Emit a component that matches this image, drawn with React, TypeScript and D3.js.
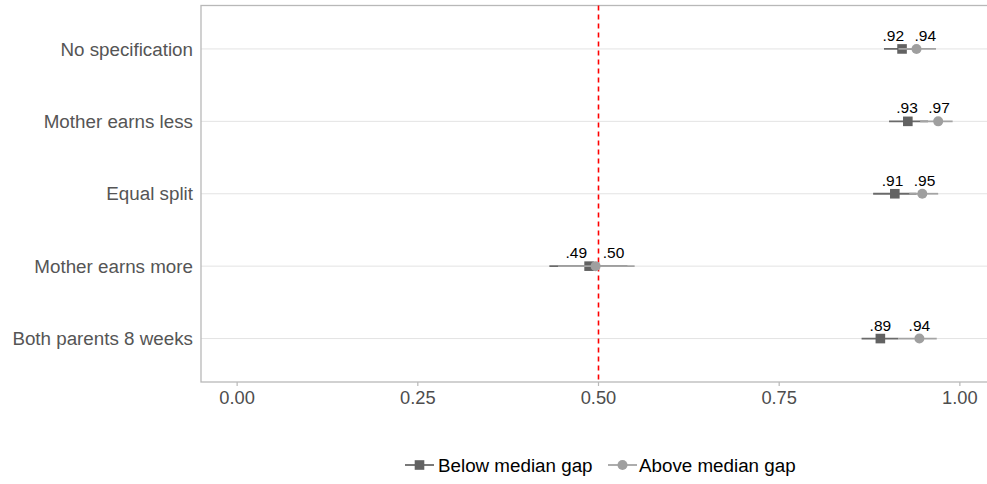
import React from "react";
import * as d3 from "d3";

const categories = [
  "No specification",
  "Mother earns less",
  "Equal split",
  "Mother earns more",
  "Both parents 8 weeks",
];
const belowEst = [0.92, 0.928, 0.91, 0.487, 0.89];
const belowLow = [0.895, 0.902, 0.88, 0.432, 0.864];
const belowHigh = [0.945, 0.956, 0.94, 0.54, 0.915];
const aboveEst = [0.94, 0.97, 0.948, 0.496, 0.944];
const aboveLow = [0.915, 0.945, 0.93, 0.444, 0.915];
const aboveHigh = [0.967, 0.99, 0.97, 0.55, 0.968];
const xTicks = [0, 0.25, 0.5, 0.75, 1];
const refValue = 0.5;
const seriesNames = ["Below median gap", "Above median gap"];

const W = 987;
const H = 484;
const margin = { left: 201, top: 5.5, right: -9, bottom: 102 };
const FONT = "Liberation Sans, Arial, Helvetica, sans-serif";

const darkFill = "#626262";
const darkLine = "#6a6a6a";
const lightFill = "#9f9f9f";
const lightLine = "#a4a4a4";

const fmt = (v: number) => d3.format(".2f")(v).replace(/^0/, "");

export default function App() {
  const x = d3
    .scaleLinear()
    .domain([-0.05, 1.05])
    .range([margin.left, W - margin.right]);
  const y = d3
    .scalePoint<string>()
    .domain(categories)
    .range([margin.top, H - margin.bottom])
    .padding(0.6);
  const panelBottom = H - margin.bottom;
  const panelRight = W - margin.right;
  const refX = x(refValue);

  const minSep = 32;
  const labelPos = categories.map((_, i) => {
    let a = x(belowEst[i]);
    let b = x(aboveEst[i]);
    if (b - a < minSep) {
      const mid = (a + b) / 2;
      a = mid - minSep / 2;
      b = mid + minSep / 2;
    }
    if (Math.abs(b - refX) < 14) b = refX + 15;
    if (Math.abs(a - refX) < 14) a = refX - 15;
    return [a, b];
  });

  const legendY = 465;
  const legendX = 405;

  return (
    <div style={{ position: "absolute", left: 0, top: 0 }}>
      <svg width={W} height={H} style={{ display: "block", fontFamily: FONT }}>
        <rect x={0} y={0} width={W} height={H} fill="#ffffff" />
        {categories.map((c) => (
          <line
            key={"g" + c}
            x1={margin.left}
            x2={panelRight}
            y1={y(c)}
            y2={y(c)}
            stroke="#e3e3e3"
            strokeWidth={1}
          />
        ))}
        <rect
          x={margin.left}
          y={margin.top}
          width={panelRight - margin.left}
          height={panelBottom - margin.top}
          fill="none"
          stroke="#b8b8b8"
          strokeWidth={1.3}
        />
        <line
          x1={refX}
          x2={refX}
          y1={margin.top}
          y2={panelBottom}
          stroke="#ff0000"
          strokeWidth={1.6}
          strokeDasharray="5,4"
        />
        {xTicks.map((t) => (
          <g key={"t" + t}>
            <line
              x1={x(t)}
              x2={x(t)}
              y1={panelBottom}
              y2={panelBottom + 4}
              stroke="#b8b8b8"
              strokeWidth={1.2}
            />
            <text
              x={x(t)}
              y={panelBottom + 22}
              textAnchor="middle"
              fontSize={18.3}
              fill="#4d4d4d"
            >
              {d3.format(".2f")(t)}
            </text>
          </g>
        ))}
        {categories.map((c) => (
          <text
            key={"y" + c}
            x={margin.left - 8}
            y={y(c)}
            dy="0.35em"
            textAnchor="end"
            fontSize={18.8}
            fill="#555555"
          >
            {c}
          </text>
        ))}
        {categories.map((c, i) => (
          <g key={"b" + c}>
            <line
              x1={x(belowLow[i])}
              x2={x(belowHigh[i])}
              y1={y(c)}
              y2={y(c)}
              stroke={darkLine}
              strokeWidth={1.8}
            />
            <rect
              x={x(belowEst[i]) - 4.8}
              y={(y(c) as number) - 4.8}
              width={9.6}
              height={9.6}
              fill={darkFill}
            />
          </g>
        ))}
        {categories.map((c, i) => (
          <g key={"a" + c}>
            <line
              x1={x(aboveLow[i])}
              x2={x(aboveHigh[i])}
              y1={y(c)}
              y2={y(c)}
              stroke={lightLine}
              strokeWidth={1.8}
            />
            <circle cx={x(aboveEst[i])} cy={y(c)} r={5} fill={lightFill} />
          </g>
        ))}
        {categories.map((c, i) => (
          <g key={"l" + c}>
            <text
              x={labelPos[i][0]}
              y={(y(c) as number) - 8}
              textAnchor="middle"
              fontSize={15.5}
              fill="#000"
            >
              {fmt(belowEst[i])}
            </text>
            <text
              x={labelPos[i][1]}
              y={(y(c) as number) - 8}
              textAnchor="middle"
              fontSize={15.5}
              fill="#000"
            >
              {fmt(aboveEst[i])}
            </text>
          </g>
        ))}
        <g>
          <line x1={legendX} x2={legendX + 29} y1={legendY} y2={legendY} stroke={darkLine} strokeWidth={1.8} />
          <rect x={legendX + 14.5 - 4.8} y={legendY - 4.8} width={9.6} height={9.6} fill={darkFill} />
          <text x={legendX + 33} y={legendY} dy="0.35em" fontSize={18.8} fill="#000">
            {seriesNames[0]}
          </text>
          <line x1={legendX + 203} x2={legendX + 232} y1={legendY} y2={legendY} stroke={lightLine} strokeWidth={1.8} />
          <circle cx={legendX + 217.5} cy={legendY} r={5} fill={lightFill} />
          <text x={legendX + 234} y={legendY} dy="0.35em" fontSize={18.8} fill="#000">
            {seriesNames[1]}
          </text>
        </g>
      </svg>
    </div>
  );
}
